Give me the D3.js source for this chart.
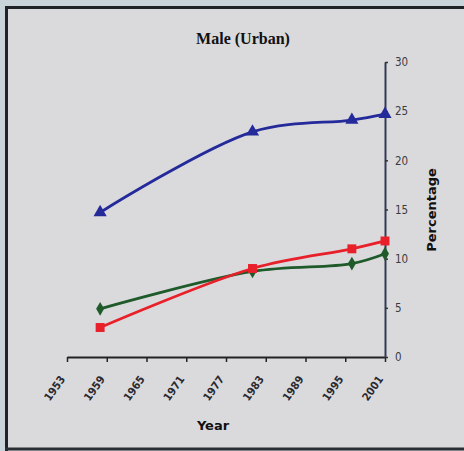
<!DOCTYPE html>
<html><head><meta charset="utf-8">
<script src="https://cdn.jsdelivr.net/npm/d3@7"></script>
<style>html,body{margin:0;padding:0;background:#c9d3da;}svg{display:block;}</style>
</head><body>
<script>
const years = [1958, 1981, 1996, 2001];
const blueSeries = [14.7, 22.9, 24.1, 24.7];
const redSeries = [3.0, 9.0, 11.0, 11.8];
const greenSeries = [4.9, 8.7, 9.5, 10.5];
const xTickYears = [1953, 1959, 1965, 1971, 1977, 1983, 1989, 1995, 2001];
const yTicks = [0, 5, 10, 15, 20, 25, 30];

const W = 464, H = 451;
const svg = d3.select("body").append("svg").attr("width", W).attr("height", H);

// panel background and frame
svg.append("rect").attr("x", 0).attr("y", 0).attr("width", W).attr("height", H).attr("fill", "#c9d3da");
svg.append("rect").attr("x", 6).attr("y", 8).attr("width", W - 6).attr("height", H - 8).attr("fill", "#dadadd");
svg.append("line").attr("x1", 5).attr("x2", W).attr("y1", 7.5).attr("y2", 7.5).attr("stroke", "#1e2328").attr("stroke-width", 3);
svg.append("line").attr("x1", 6.5).attr("x2", 6.5).attr("y1", 6).attr("y2", H).attr("stroke", "#1e2328").attr("stroke-width", 3);
svg.append("line").attr("x1", 5).attr("x2", W).attr("y1", 449).attr("y2", 449).attr("stroke", "#2a2f35").attr("stroke-width", 3);

const x = d3.scaleLinear().domain([1953, 2001]).range([67, 385]);
const y = d3.scaleLinear().domain([0, 30]).range([357, 62]);

// title
svg.append("text").attr("x", 243).attr("y", 44).attr("text-anchor", "middle")
  .attr("font-family", "Liberation Serif, Times New Roman, serif").attr("font-weight", "bold")
  .attr("font-size", 16).attr("fill", "#111").text("Male (Urban)");

// x axis
const xAxis = d3.axisBottom(x).tickValues(xTickYears).tickFormat(d3.format("d")).tickSize(5).tickSizeOuter(0);
const gx = svg.append("g").attr("transform", "translate(0,357)").call(xAxis);
gx.select(".domain").attr("stroke", "#222").attr("stroke-width", 2);
gx.selectAll(".tick line").attr("stroke", "#222").attr("stroke-width", 1.5);
gx.selectAll(".tick text")
  .attr("font-family", "DejaVu Sans Condensed, DejaVu Sans, sans-serif").attr("font-size", 11)
  .attr("font-weight", "bold").attr("fill", "#2a2a30")
  .attr("text-anchor", "end").attr("dy", "0.35em")
  .attr("transform", "translate(-5,20) rotate(-55)").attr("y", 0).attr("x", 0);

svg.append("text").attr("x", 213).attr("y", 430).attr("text-anchor", "middle")
  .attr("font-family", "DejaVu Sans, sans-serif").attr("font-weight", "bold")
  .attr("font-size", 13).attr("fill", "#111").text("Year");

// y axis (right)
const yAxis = d3.axisRight(y).tickValues(yTicks).tickSize(3).tickSizeOuter(0);
const gy = svg.append("g").attr("transform", "translate(385,0)").call(yAxis);
gy.select(".domain").attr("stroke", "#333a55").attr("stroke-width", 2);
gy.selectAll(".tick line").attr("stroke", "#333").attr("stroke-width", 1.5);
gy.selectAll(".tick text").attr("font-family", "DejaVu Sans Condensed, DejaVu Sans, sans-serif")
  .attr("font-size", 11.5).attr("fill", "#3a3a40").attr("x", 10);

svg.append("text").attr("transform", "translate(436,210) rotate(-90)").attr("text-anchor", "middle")
  .attr("font-family", "DejaVu Sans, sans-serif").attr("font-weight", "bold")
  .attr("font-size", 13).attr("fill", "#111").text("Percentage");

// series
const series = [
  { vals: greenSeries, color: "#1f5a2a", sym: d3.symbolDiamond, size: 55 },
  { vals: redSeries, color: "#e8202a", sym: d3.symbolSquare, size: 80 },
  { vals: blueSeries, color: "#242a9a", sym: d3.symbolTriangle, size: 75 }
];
const line = d3.line().x(d => x(d[0])).y(d => y(d[1])).curve(d3.curveCatmullRom.alpha(0.5));
series.forEach(s => {
  const pts = years.map((yr, i) => [yr, s.vals[i]]);
  svg.append("path").datum(pts).attr("d", line).attr("fill", "none")
    .attr("stroke", s.color).attr("stroke-width", 2.8).attr("stroke-linejoin", "round");
  svg.selectAll(null).data(pts).enter().append("path")
    .attr("d", d3.symbol().type(s.sym).size(s.size))
    .attr("transform", d => `translate(${x(d[0])},${y(d[1])})`)
    .attr("fill", s.color);
});
</script>
</body></html>
